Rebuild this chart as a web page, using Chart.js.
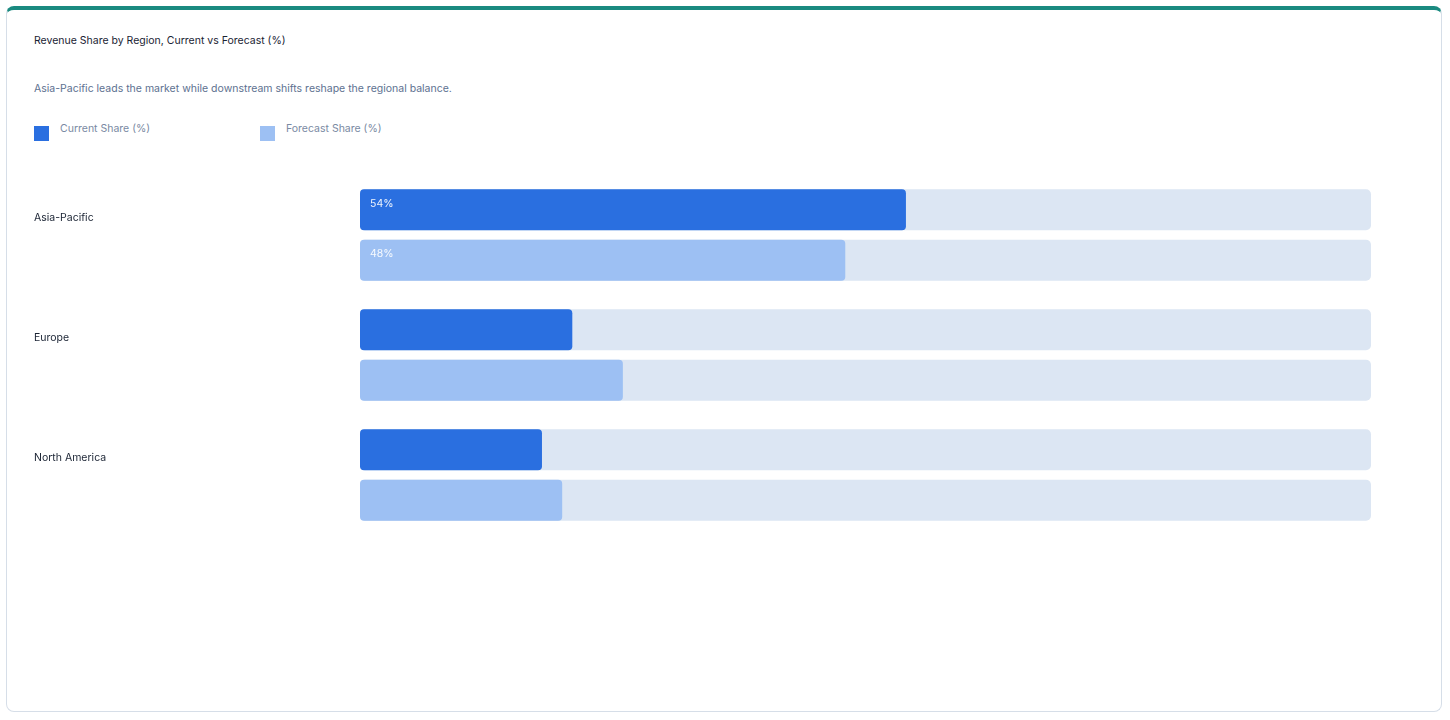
<!DOCTYPE html>
<html><head><meta charset="utf-8">
<script src="https://cdn.jsdelivr.net/npm/chart.js@4"></script>
<style>
body{margin:0;width:1450px;height:720px;background:#fff;font-family:Inter,"Noto Sans",sans-serif;overflow:hidden}
#card{position:absolute;left:6px;top:6px;width:1436px;height:706px;border:1.5px solid #d6dee8;border-top:4px solid #1a8a80;border-radius:8px;box-sizing:border-box}
.t{position:absolute;left:34px;font-size:10.5px}
#title{top:34px;color:#1a2333}
#sub{top:82px;color:#5d7190}
.lg{position:absolute;top:122px;font-size:10.5px;color:#7a8aa3}
.sw{position:absolute;top:126px;width:15px;height:15px}
canvas{position:absolute;left:0;top:0}
</style></head><body>
<div id="card"></div>
<div class="t" id="title">Revenue Share by Region, Current vs Forecast (%)</div>
<div class="t" id="sub">Asia-Pacific leads the market while downstream shifts reshape the regional balance.</div>
<div class="sw" style="left:34px;background:#2a6fe0"></div><div class="lg" style="left:60px">Current Share (%)</div>
<div class="sw" style="left:260px;background:#9dc0f3"></div><div class="lg" style="left:286px">Forecast Share (%)</div>
<canvas id="c" width="1450" height="720"></canvas>
<script>
const categories=["Asia-Pacific","Europe","North America"];
const currentShare=[54,21,18];
const forecastShare=[48,26,20];
const maxValue=100;
const plug={id:'p',
beforeDatasetsDraw(ch){const ctx=ch.ctx,x=ch.scales.x;ctx.save();ctx.fillStyle='#dce6f3';
ch.data.datasets.forEach((d,i)=>ch.getDatasetMeta(i).data.forEach(b=>{const h=b.height;ctx.beginPath();ctx.roundRect(x.getPixelForValue(0),b.y-h/2,x.getPixelForValue(maxValue)-x.getPixelForValue(0),h,5);ctx.fill();}));ctx.restore();},
afterDatasetsDraw(ch){const ctx=ch.ctx,y=ch.scales.y;ctx.save();ctx.font='10.5px Inter, "Noto Sans", sans-serif';ctx.textBaseline='middle';
ch.data.labels.forEach((l,i)=>{ctx.fillStyle='#1a2333';ctx.fillText(l,34,y.getPixelForValue(i)-17);});
ch.data.datasets.forEach((d,i)=>ch.getDatasetMeta(i).data.forEach((b,j)=>{if(d.data[j]>=30){ctx.fillStyle='rgba(255,255,255,0.92)';ctx.fillText(d.data[j]+'%',b.base+10,b.y-6);}}));ctx.restore();}};
new Chart(document.getElementById('c'),{type:'bar',
data:{labels:categories,datasets:[
{label:'Current Share (%)',data:currentShare,backgroundColor:'#2a6fe0',borderRadius:4,borderSkipped:false,categoryPercentage:0.84,barPercentage:0.813},
{label:'Forecast Share (%)',data:forecastShare,backgroundColor:'#9dc0f3',borderRadius:4,borderSkipped:false,categoryPercentage:0.84,barPercentage:0.813}]},
options:{indexAxis:'y',responsive:false,animation:false,
layout:{padding:{left:360,right:79,top:175,bottom:185}},
plugins:{legend:{display:false},tooltip:{enabled:false}},
scales:{x:{display:false,min:0,max:maxValue},y:{display:false}}},
plugins:[plug]});
</script></body></html>
